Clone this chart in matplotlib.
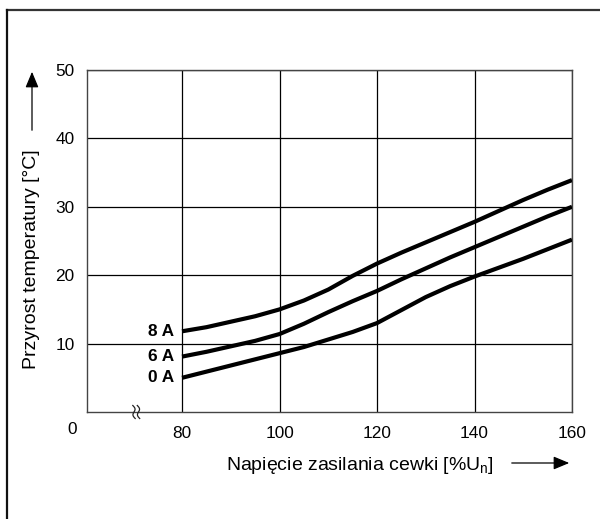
import numpy as np
import matplotlib
matplotlib.use("Agg")
import matplotlib.pyplot as plt
from matplotlib.lines import Line2D

plt.rcParams['font.family'] = ['Liberation Sans', 'DejaVu Sans']
plt.rcParams['mathtext.fontset'] = 'custom'
plt.rcParams['mathtext.rm'] = 'Liberation Sans'

# ---- data ----
voltage = [80, 85, 90, 95, 100, 105, 110, 115, 120, 125, 130, 135, 140, 145, 150, 155, 160]
temp_8A = [11.8, 12.4, 13.2, 14.0, 15.0, 16.3, 17.9, 19.9, 21.7, 23.3, 24.8, 26.3, 27.8, 29.4, 31.0, 32.5, 33.9]
temp_6A = [8.1, 8.8, 9.6, 10.4, 11.4, 12.9, 14.6, 16.2, 17.7, 19.4, 21.0, 22.6, 24.1, 25.6, 27.1, 28.6, 30.0]
temp_0A = [5.0, 5.9, 6.8, 7.7, 8.6, 9.5, 10.6, 11.7, 13.0, 14.9, 16.8, 18.4, 19.8, 21.1, 22.4, 23.8, 25.2]
series_labels = ['8 A', '6 A', '0 A']
x_ticks = [80, 100, 120, 140, 160]
y_ticks = [10, 20, 30, 40, 50]
x_label = 'Napięcie zasilania cewki [%U$_\\mathregular{n}$]'
y_label = 'Przyrost temperatury [°C]'

W, H = 600, 519
fig = plt.figure(figsize=(6, 5.19), dpi=100)
ax = fig.add_axes([87 / W, 1 - 412 / H, (572 - 87) / W, (412 - 70) / H])

fs = 12.4
lfs = 14
ax.set_xlim(60.5, 160)
ax.set_ylim(0, 50)
ax.set_xticks(x_ticks)
ax.set_yticks(y_ticks)
ax.tick_params(length=0, labelsize=fs, pad=10, colors='black')
ax.tick_params(axis='y', pad=9)
ax.grid(True, color='black', lw=0.9)
ax.set_axisbelow(True)
for s in ax.spines.values():
    s.set_color('#444444')
    s.set_linewidth(1.0)

for ys, lab in zip([temp_8A, temp_6A, temp_0A], series_labels):
    ax.plot(voltage, ys, color='black', lw=3.0, solid_capstyle='butt', zorder=3)
    ax.annotate(lab, xy=(voltage[0], ys[0]), xytext=(-8, 0), textcoords='offset pixels',
                ha='right', va='center', fontsize=fs, fontweight='bold')

# origin label
fig.text(72 / W, 1 - 430 / H, '0', ha='center', va='center', fontsize=fs)

# axis break marks
for xp in [134, 138.5]:
    t = np.linspace(-1, 1, 40)
    px = xp - 1.6 * np.sin(np.pi * t) + 1.2 * t
    py = 412 + 6.5 * t
    fig.add_artist(Line2D(px / W, 1 - py / H, color='#222222', lw=0.9, transform=fig.transFigure))

# axis labels
fig.text(32 / W, 1 - 259 / H, y_label, rotation=90, ha='center', va='center', fontsize=lfs)
fig.text(360 / W, 1 - 466 / H, x_label, ha='center', va='center', fontsize=lfs)

# arrows
fig.add_artist(matplotlib.patches.FancyArrowPatch((32 / W, 1 - 133 / H), (32 / W, 1 - 69 / H),
               transform=fig.transFigure, arrowstyle='-|>,head_length=6,head_width=2.5',
               color='black', lw=0.9, mutation_scale=1.6))
fig.add_artist(matplotlib.patches.FancyArrowPatch((509 / W, 1 - 463 / H), (572 / W, 1 - 463 / H),
               transform=fig.transFigure, arrowstyle='-|>,head_length=6,head_width=2.5',
               color='black', lw=0.9, mutation_scale=1.6))

# figure frame (top and left)
fig.add_artist(Line2D([7 / W, 1.0], [1 - 10 / H, 1 - 10 / H], color='#333333', lw=1.6, transform=fig.transFigure))
fig.add_artist(Line2D([7 / W, 7 / W], [1 - 10 / H, 0.0], color='#111111', lw=1.6, transform=fig.transFigure))

fig.savefig('out.png', dpi=100)
